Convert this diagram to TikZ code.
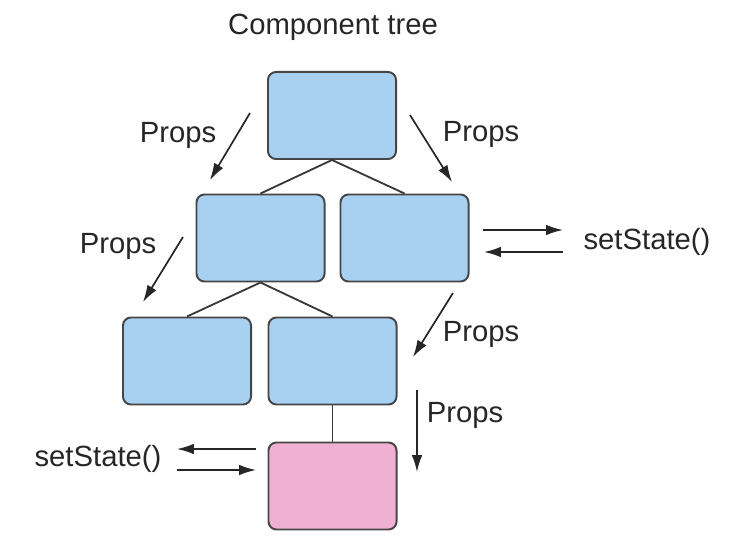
\documentclass[tikz,border=0pt]{standalone}
\usepackage{fontspec}
\setmainfont{Liberation Sans}
\usetikzlibrary{arrows.meta}

\definecolor{compblue}{RGB}{168,208,240}
\definecolor{comppink}{RGB}{240,176,210}
\definecolor{edgegray}{RGB}{70,70,70}

\tikzset{
  comp/.style={draw=edgegray, line width=1.4pt, rounded corners=0.2cm,
    minimum width=3.2cm, minimum height=2.175cm, inner sep=0pt, fill=compblue},
  statecomp/.style={comp, fill=comppink},
  link/.style={draw=edgegray!80!black, line width=1.3pt},
  flow/.style={line width=1.2pt, color=black!85, -{Latex[length=12pt,width=7.5pt]}},
  lbl/.style={font=\fontsize{20.8}{24}\selectfont, inner sep=0pt, text=black!85}
}

\begin{document}
\begin{tikzpicture}[x=0.025cm, y=-0.025cm]
  \useasboundingbox (0,0) rectangle (756,556);

  \node[lbl] (title) at (333,27) {Component tree};

  % components
  \node[comp] (root) at (332,115.5) {};
  \node[comp] (midl) at (260.5,238) {};
  \node[comp] (midr) at (404.5,238) {};
  \node[comp] (lowl) at (187,361) {};
  \node[comp] (lowr) at (332.5,361) {};
  \node[statecomp] (leaf) at (332.5,486) {};

  % tree lines
  \draw[link] (root.south) -- (midl.north);
  \draw[link] (root.south) -- (midr.north);
  \draw[link] (midl.south) -- (lowl.north);
  \draw[link] (midl.south) -- (lowr.north);
  \draw[link] (lowr.south) -- (leaf.north);

  % props flow
  \coordinate (pa1) at (250,113);  \coordinate (pa2) at (210,180);
  \coordinate (pb1) at (410,115);  \coordinate (pb2) at (452,182);
  \coordinate (pc1) at (183,237);  \coordinate (pc2) at (143,302);
  \coordinate (pd1) at (453,293);  \coordinate (pd2) at (413,357);
  \coordinate (pe1) at (417,390);  \coordinate (pe2) at (417,472);
  \draw[flow] (pa1) -- (pa2);
  \draw[flow] (pb1) -- (pb2);
  \draw[flow] (pc1) -- (pc2);
  \draw[flow] (pd1) -- (pd2);
  \draw[flow] (pe1) -- (pe2);
  \node[lbl] (propsa) at (178,135) {Props};
  \node[lbl] (propsb) at (481,134) {Props};
  \node[lbl] (propsc) at (118,246) {Props};
  \node[lbl] (propsd) at (481,334) {Props};
  \node[lbl] (propse) at (465,415) {Props};

  % setState
  \coordinate (sa1) at (483,230);  \coordinate (sa2) at (563,230);
  \coordinate (sb1) at (563,252);  \coordinate (sb2) at (484,252);
  \draw[flow] (sa1) -- (sa2);
  \draw[flow] (sb1) -- (sb2);
  \node[lbl] (statea) at (647,242) {setState()};

  \coordinate (sc1) at (256,449);  \coordinate (sc2) at (177,449);
  \coordinate (sd1) at (177,470);  \coordinate (sd2) at (256,470);
  \draw[flow] (sc1) -- (sc2);
  \draw[flow] (sd1) -- (sd2);
  \node[lbl] (stateb) at (98,459) {setState()};
\end{tikzpicture}
\end{document}
